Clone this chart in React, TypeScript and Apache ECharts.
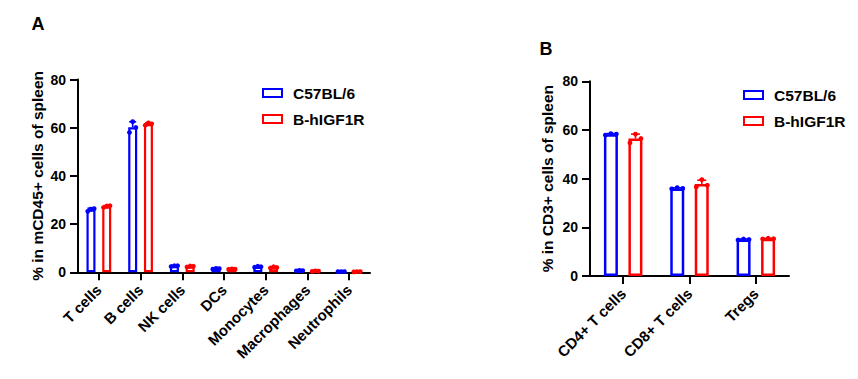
import React, { useEffect, useRef } from 'react';
import * as echarts from 'echarts';

const FONT = '"Liberation Sans", Arial, sans-serif';
const BLUE = '#0000ff';
const RED = '#ff0000';
const SERIES = ['C57BL/6', 'B-hIGF1R'];

// Panel A: % in mCD45+ cells of spleen
const catsA = ['T cells', 'B cells', 'NK cells', 'DCs', 'Monocytes', 'Macrophages', 'Neutrophils'];
const meanA_C57 = [26.0, 60.2, 2.6, 1.5, 2.3, 0.7, 0.3];
const meanA_HIGF = [27.3, 61.5, 2.4, 1.3, 2.0, 0.5, 0.3];
const ptsA_C57 = [
  [25.3, 26.2, 26.4],
  [58.0, 62.5, 60.1],
  [2.4, 2.7, 2.7],
  [1.3, 1.6, 1.5],
  [2.1, 2.5, 2.3],
  [0.6, 0.8, 0.7],
  [0.3, 0.3, 0.3],
];
const ptsA_HIGF = [
  [26.9, 27.5, 27.6],
  [61.0, 62.0, 61.6],
  [2.2, 2.6, 2.5],
  [1.2, 1.4, 1.3],
  [1.8, 2.3, 2.0],
  [0.4, 0.6, 0.5],
  [0.2, 0.3, 0.3],
];

// Panel B: % in CD3+ cells of spleen
const catsB = ['CD4+ T cells', 'CD8+ T cells', 'Tregs'];
const meanB_C57 = [58.2, 36.0, 15.0];
const meanB_HIGF = [56.5, 37.8, 15.3];
const ptsB_C57 = [
  [57.9, 58.5, 58.3],
  [35.8, 36.3, 36.0],
  [14.8, 15.2, 15.0],
];
const ptsB_HIGF = [
  [54.7, 58.3, 56.5],
  [36.6, 39.6, 37.3],
  [15.2, 15.5, 15.3],
];

const yTicks = { min: 0, max: 80, interval: 20 };

function sd(arr: number[]) {
  const m = arr.reduce((a, b) => a + b, 0) / arr.length;
  const v = arr.reduce((a, b) => a + (b - m) * (b - m), 0) / (arr.length - 1);
  return Math.sqrt(v);
}

function errData(means: number[], pts: number[][]) {
  return means.map((m, i) => [i, m, sd(pts[i]), pts[i][0], pts[i][1], pts[i][2]]);
}

function errSeries(name: string, color: string, idx: number, data: any[], offset: number, jitter: number[], capW: number) {
  return {
    type: 'custom',
    name,
    xAxisIndex: idx,
    yAxisIndex: idx,
    z: 5,
    data,
    encode: { x: 0, y: 1 },
    renderItem: (params: any, api: any) => {
      const cat = api.value(0);
      const mean = api.value(1);
      const s = api.value(2);
      const base = api.coord([cat, mean]);
      const cx = base[0] + offset;
      const top = api.coord([cat, mean + s])[1];
      const children: any[] = [
        { type: 'line', shape: { x1: cx, y1: base[1], x2: cx, y2: top }, style: { stroke: color, lineWidth: 1.6 } },
        { type: 'line', shape: { x1: cx - capW, y1: top, x2: cx + capW, y2: top }, style: { stroke: color, lineWidth: 1.6 } },
      ];
      for (let k = 0; k < 3; k++) {
        const y = api.coord([cat, api.value(3 + k)])[1];
        children.push({ type: 'circle', shape: { cx: cx + jitter[k], cy: y, r: 2.4 }, style: { fill: color } });
      }
      return { type: 'group', children };
    },
  };
}

function xAxisCfg(idx: number, data: string[]) {
  return {
    type: 'category',
    gridIndex: idx,
    data,
    axisLine: { show: true, lineStyle: { color: '#000', width: 2 } },
    axisTick: { show: true, alignWithLabel: true, length: 8, lineStyle: { color: '#000', width: 2 } },
    axisLabel: { rotate: 45, interval: 0, margin: 15, color: '#000', fontSize: 15, fontWeight: 'bold', fontFamily: FONT },
  };
}

function yAxisCfg(idx: number, name: string, gap: number) {
  return {
    type: 'value',
    gridIndex: idx,
    ...yTicks,
    name,
    nameLocation: 'middle',
    nameGap: gap,
    nameTextStyle: { color: '#000', fontSize: 15.5, fontWeight: 'bold', fontFamily: FONT },
    axisLine: { show: true, lineStyle: { color: '#000', width: 2 } },
    axisTick: { show: true, length: 8, lineStyle: { color: '#000', width: 2 } },
    axisLabel: { margin: 12, color: '#000', fontSize: 14, fontWeight: 'bold', fontFamily: FONT },
    splitLine: { show: false },
  };
}

function barSeries(name: string, color: string, idx: number, data: number[], width: number, bw: number) {
  return {
    type: 'bar',
    name,
    xAxisIndex: idx,
    yAxisIndex: idx,
    data,
    barWidth: width,
    barGap: '75%',
    itemStyle: { color: '#fff', borderColor: color, borderWidth: bw },
    emphasis: { disabled: true },
  };
}

function legendCfg(left: number, top: number) {
  return {
    orient: 'vertical',
    left,
    top,
    padding: 0,
    itemWidth: 19,
    itemHeight: 8,
    itemGap: 10,
    icon: 'rect',
    selectedMode: false,
    data: [
      { name: SERIES[0], itemStyle: { color: '#fff', borderColor: BLUE, borderWidth: 2 } },
      { name: SERIES[1], itemStyle: { color: '#fff', borderColor: RED, borderWidth: 2 } },
    ],
    textStyle: { color: '#000', fontSize: 15.5, fontWeight: 'bold', fontFamily: FONT, lineHeight: 16, padding: [0, 0, 0, 6] },
  };
}

export default function App() {
  const ref = useRef<HTMLDivElement>(null);
  useEffect(() => {
    if (!ref.current) return;
    const chart = echarts.init(ref.current, null, { renderer: 'svg' });
    const option: any = {
      animation: false,
      backgroundColor: '#fff',
      grid: [
        { left: 78, top: 79.5, width: 292, height: 192.8 },
        { left: 590, top: 81.3, width: 199, height: 194.7 },
      ],
      xAxis: [xAxisCfg(0, catsA), xAxisCfg(1, catsB)],
      yAxis: [
        yAxisCfg(0, '% in mCD45+ cells of spleen', 33),
        yAxisCfg(1, '% in CD3+ cells of spleen', 35),
      ],
      legend: [legendCfg(262, 85), legendCfg(743, 87)],
      graphic: [
        { type: 'text', x: 38, y: 24, style: { text: 'A', fill: '#000', font: `bold 18px ${FONT}`, textAlign: 'center', textVerticalAlign: 'middle', align: 'center', verticalAlign: 'middle' } },
        { type: 'text', x: 546, y: 49, style: { text: 'B', fill: '#000', font: `bold 18px ${FONT}`, textAlign: 'center', textVerticalAlign: 'middle', align: 'center', verticalAlign: 'middle' } },
      ],
      series: [
        barSeries(SERIES[0], BLUE, 0, meanA_C57, 9, 2.2),
        barSeries(SERIES[1], RED, 0, meanA_HIGF, 9, 2.2),
        barSeries(SERIES[0], BLUE, 1, meanB_C57, 14, 2.5),
        barSeries(SERIES[1], RED, 1, meanB_HIGF, 14, 2.5),
        errSeries(SERIES[0], BLUE, 0, errData(meanA_C57, ptsA_C57), -7.9, [-3.2, 0, 3.2], 3.5),
        errSeries(SERIES[1], RED, 0, errData(meanA_HIGF, ptsA_HIGF), 7.9, [-3.2, 0, 3.2], 3.5),
        errSeries(SERIES[0], BLUE, 1, errData(meanB_C57, ptsB_C57), -12.3, [-5.5, 0, 5.5], 4.5),
        errSeries(SERIES[1], RED, 1, errData(meanB_HIGF, ptsB_HIGF), 12.3, [-5.5, 0, 5.5], 4.5),
      ],
    };
    chart.setOption(option);
    return () => chart.dispose();
  }, []);
  return <div ref={ref} style={{ position: 'absolute', left: 0, top: 0, width: 858, height: 379 }} />;
}
